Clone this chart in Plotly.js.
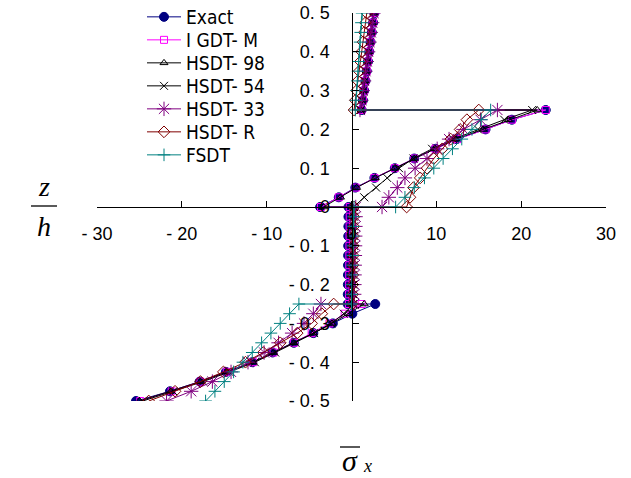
<!DOCTYPE html>
<html>
<head>
<meta charset="utf-8">
<script src="https://cdn.plot.ly/plotly-3.0.1.min.js"></script>
<style>html,body{margin:0;padding:0;background:#fff;}#chart{width:631px;height:478px;}</style>
</head>
<body>
<div id="chart"></div>
<script>
// thickness coordinate z/h (4 layers, 11 points each)
const zVals = [
  -0.5,-0.475,-0.45,-0.425,-0.4,-0.375,-0.35,-0.325,-0.3,-0.275,-0.25,
  -0.25,-0.225,-0.2,-0.175,-0.15,-0.125,-0.1,-0.075,-0.05,-0.025,0,
  0,0.025,0.05,0.075,0.1,0.125,0.15,0.175,0.2,0.225,0.25,
  0.25,0.275,0.3,0.325,0.35,0.375,0.4,0.425,0.45,0.475,0.5
];
const seriesNames = ["Exact","I GDT- M","HSDT- 98","HSDT- 54","HSDT- 33","HSDT- R","FSDT"];
const exact = [
  -25.4,-21.4,-17.9,-14.8,-11.7,-9.3,-6.8,-4.5,-2.2,0.1,2.8,
  -0.45,-0.44,-0.43,-0.42,-0.41,-0.40,-0.39,-0.38,-0.37,-0.36,-0.35,
  -3.7,-1.5,0.45,2.7,5.1,7.4,9.9,12.4,15.8,18.9,22.9,
  1.2,1.35,1.5,1.65,1.8,1.95,2.1,2.25,2.4,2.55,2.7
];
const igdtM = [
  -24.9,-21.2,-17.8,-14.7,-11.6,-9.2,-6.8,-4.7,-2.6,-0.8,1.2,
  -0.3,-0.29,-0.28,-0.27,-0.26,-0.25,-0.24,-0.23,-0.22,-0.21,-0.2,
  -3.6,-1.5,0.5,2.7,5.1,7.4,9.9,12.5,15.8,18.9,22.9,
  1.2,1.35,1.5,1.65,1.8,1.95,2.1,2.25,2.4,2.55,2.7
];
const hsdt98 = [
  -25.0,-21.3,-17.8,-14.7,-11.6,-9.2,-6.8,-4.5,-2.3,-0.4,1.5,
  0.0,0.01,0.02,0.03,0.04,0.05,0.06,0.07,0.08,0.09,0.1,
  -3.3,-1.3,0.6,2.8,5.1,7.4,9.8,12.3,15.5,18.5,21.9,
  1.15,1.3,1.45,1.6,1.75,1.9,2.05,2.2,2.35,2.5,2.65
];
const hsdt54 = [
  -24.6,-21.0,-17.5,-14.4,-11.4,-9.0,-6.6,-4.4,-2.4,-0.9,0.3,
  0.2,0.21,0.22,0.23,0.24,0.25,0.26,0.27,0.28,0.29,0.3,
  0.25,1.5,2.9,4.2,5.6,7.3,9.5,12.0,14.9,18.0,21.3,
  1.1,1.25,1.4,1.55,1.7,1.85,2.0,2.15,2.3,2.45,2.6
];
const hsdt33 = [
  -21.8,-18.9,-16.4,-14.2,-12.2,-10.3,-8.6,-7.0,-5.6,-4.5,-3.6,
  0.3,0.32,0.34,0.36,0.38,0.4,0.42,0.44,0.46,0.48,0.5,
  3.6,4.4,5.4,6.3,7.5,8.9,10.1,11.5,13.2,15.2,17.2,
  1.0,1.16,1.32,1.48,1.64,1.8,1.96,2.12,2.28,2.44,2.6
];
const hsdtR = [
  -23.9,-20.8,-17.8,-15.1,-12.5,-10.4,-8.4,-6.4,-4.7,-3.5,-2.1,
  0.1,0.12,0.14,0.16,0.18,0.2,0.22,0.24,0.26,0.28,0.3,
  6.5,6.9,7.3,8.1,8.9,9.7,10.7,11.7,12.8,13.6,15.0,
  0.3,0.45,0.6,0.75,0.9,1.05,1.2,1.35,1.5,1.65,1.8
];
const fsdt = [
  -17.2,-16.1,-15.0,-13.9,-12.8,-11.7,-10.6,-9.5,-8.4,-7.3,-6.2,
  0.0,0.03,0.06,0.09,0.12,0.15,0.18,0.21,0.24,0.27,0.3,
  5.2,6.3,7.4,8.6,9.7,10.8,11.9,13.0,14.2,15.3,16.4,
  0.45,0.53,0.61,0.69,0.77,0.85,0.93,1.01,1.09,1.17,1.25
];
const xTickVals = [-30,-20,-10,0,10,20,30];
const xTickText = ["- 30","- 20","- 10","0","10","20","30"];
const yTickVals = [-0.5,-0.4,-0.3,-0.2,-0.1,0,0.1,0.2,0.3,0.4,0.5];
const yTickText = ["- 0. 5","- 0. 4","- 0. 3","- 0. 2","- 0. 1","0","0. 1","0. 2","0. 3","0. 4","0. 5"];

const allX = [exact, igdtM, hsdt98, hsdt54, hsdt33, hsdtR, fsdt];
const styles = [
  {color:'#000080', symbol:'circle', size:9, fill:'#000080', lw:1},
  {color:'#FF00FF', symbol:'square-open', size:7, lw:1},
  {color:'#000000', symbol:'triangle-up-open', size:7, lw:1},
  {color:'#000000', symbol:'x-thin-open', size:8, lw:1},
  {color:'#800080', symbol:'asterisk-open', size:12, lw:1},
  {color:'#800000', symbol:'diamond-open', size:9, lw:1},
  {color:'#008080', symbol:'cross-thin-open', size:9, lw:1}
];

// plot area in pixels
const L = 97, R = 25, T = 13, B = 77, W = 631, H = 478;
const pw = W - L - R, ph = H - T - B;
const px = v => (v - L) / pw;
const py = v => (H - B - v) / ph;

const legendTop = 17, legendStep = 23;
const traces = [];
const tickFont = {family: 'Liberation Sans, Arial, sans-serif', size: 18, color: '#000'};
const layout = {
  width: W, height: H,
  margin: {l: L, r: R, t: T, b: B, pad: 0, autoexpand: false},
  paper_bgcolor: '#fff', plot_bgcolor: '#fff',
  showlegend: true,
  font: {family: 'Liberation Sans, Arial, sans-serif', size: 18, color: '#000'},
  xaxis: {
    range: [-30, 30], anchor: 'free', position: 0.5,
    tickvals: xTickVals, ticktext: xTickText,
    ticks: 'inside', ticklen: 6, tickcolor: '#000', tickwidth: 1,
    showline: true, linecolor: '#000', linewidth: 1,
    showgrid: false, zeroline: false, ticklabelstandoff: 10,
    tickfont: tickFont
  },
  yaxis: {
    range: [-0.5, 0.5], anchor: 'free', position: 0.5,
    tickvals: yTickVals, ticktext: yTickText,
    ticks: 'inside', ticklen: 6, tickcolor: '#000', tickwidth: 1,
    showline: true, linecolor: '#000', linewidth: 1,
    showgrid: false, zeroline: false, ticklabelstandoff: 18,
    tickfont: tickFont
  },
  annotations: [
    {xref:'paper', yref:'paper', x:px(44), y:py(187), text:'<i>z</i>', showarrow:false,
     font:{family:'Liberation Serif, Times New Roman, serif', size:28}, xanchor:'center', yanchor:'middle'},
    {xref:'paper', yref:'paper', x:px(44), y:py(226), text:'<i>h</i>', showarrow:false,
     font:{family:'Liberation Serif, Times New Roman, serif', size:28}, xanchor:'center', yanchor:'middle'},
    {xref:'paper', yref:'paper', x:px(350), y:py(461), text:'<i>σ</i>', showarrow:false,
     font:{family:'Liberation Serif, Times New Roman, serif', size:30}, xanchor:'center', yanchor:'middle'},
    {xref:'paper', yref:'paper', x:px(367), y:py(466), text:'<i>x</i>', showarrow:false,
     font:{family:'Liberation Serif, Times New Roman, serif', size:18}, xanchor:'center', yanchor:'middle'}
  ],
  shapes: [
    {type:'line', xref:'paper', yref:'paper', x0:px(31), x1:px(57), y0:py(206), y1:py(206), line:{color:'#000', width:1.3}},
    {type:'line', xref:'paper', yref:'paper', x0:px(340), x1:px(360), y0:py(447), y1:py(447), line:{color:'#000', width:1.3}}
  ]
};

for (let i = 0; i < seriesNames.length; i++) {
  const s = styles[i];
  const lg = i === 0 ? 'legend' : 'legend' + (i + 1);
  traces.push({
    type: 'scatter', mode: 'lines+markers', name: seriesNames[i],
    x: allX[i], y: zVals, legend: lg,
    line: {color: s.color, width: 1},
    marker: {symbol: s.symbol, size: s.size, color: s.fill || s.color,
             line: {color: s.color, width: s.lw}}
  });
  layout[lg] = {
    x: px(142), xanchor: 'left', y: py(legendTop + i * legendStep), yanchor: 'middle',
    bgcolor: 'rgba(0,0,0,0)', borderwidth: 0, itemwidth: 34,
    font: {family: 'Liberation Sans Narrow, Arial Narrow, DejaVu Sans Condensed, sans-serif', size: 19, color: '#000'}
  };
}

Plotly.newPlot('chart', traces, layout, {staticPlot: true, displayModeBar: false});
</script>
</body>
</html>
